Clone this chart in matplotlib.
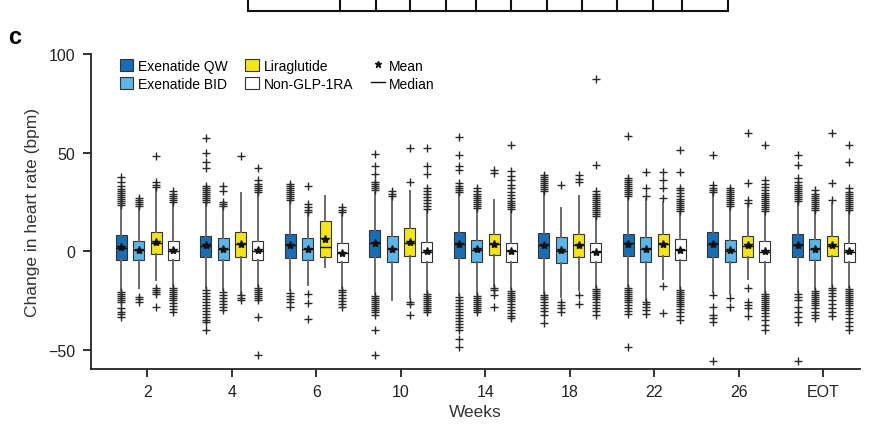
import matplotlib
matplotlib.use("Agg")
import matplotlib.pyplot as plt
from matplotlib.patches import Patch
from matplotlib.lines import Line2D
import numpy as np

plt.rcParams['font.family'] = ['Liberation Sans', 'DejaVu Sans']

weeks = ['2', '4', '6', '10', '14', '18', '22', '26', 'EOT']
groups = ['Exenatide QW', 'Exenatide BID', 'Liraglutide', 'Non-GLP-1RA']
colors = ['#1a6db3', '#5db6ea', '#f3e41c', '#ffffff']

# box statistics per group (one value per week)
q1 = {
    'Exenatide QW':  [-4.6, -3.2, -3.4, -2.9, -3.4, -3.7, -2.6, -3.2, -2.9],
    'Exenatide BID': [-4.6, -4.6, -4.6, -5.8, -5.4, -6.3, -5.4, -5.8, -4.6],
    'Liraglutide':   [-1.5, -3.0, -3.2, -2.4, -2.0, -3.2, -2.6, -2.9, -2.6],
    'Non-GLP-1RA':   [-4.6, -4.6, -5.8, -5.8, -5.8, -5.8, -4.6, -5.8, -5.4],
}
q3 = {
    'Exenatide QW':  [8.2, 7.8, 8.7, 10.7, 9.9, 9.0, 8.7, 9.9, 8.7],
    'Exenatide BID': [5.1, 6.5, 6.5, 7.8, 5.6, 7.0, 7.3, 5.6, 6.1],
    'Liraglutide':   [9.7, 9.7, 15.0, 11.9, 8.7, 8.7, 8.7, 7.8, 7.8],
    'Non-GLP-1RA':   [5.0, 5.0, 3.9, 4.8, 3.9, 4.3, 6.1, 5.1, 3.9],
}
median = {
    'Exenatide QW':  [1.4, 2.7, 2.9, 4.2, 3.4, 3.1, 3.9, 3.6, 3.1],
    'Exenatide BID': [0.5, 1.0, 1.0, 1.0, 0.5, 0.2, 1.0, 0.2, 1.0],
    'Liraglutide':   [4.0, 3.6, 1.9, 4.2, 3.4, 3.1, 3.4, 2.7, 2.7],
    'Non-GLP-1RA':   [0.2, 0.2, -0.8, -0.3, 0.0, -0.5, 0.5, -0.3, -0.3],
}
mean = {
    'Exenatide QW':  [1.8, 2.9, 3.0, 4.0, 3.5, 3.0, 3.5, 3.4, 3.0],
    'Exenatide BID': [0.6, 1.2, 1.2, 1.2, 0.8, 0.5, 1.0, 0.4, 1.2],
    'Liraglutide':   [4.5, 3.6, 6.0, 4.4, 3.4, 3.1, 3.4, 2.9, 2.9],
    'Non-GLP-1RA':   [0.3, 0.3, -1.0, -0.2, 0.1, -0.3, 0.5, -0.2, -0.2],
}
whis_hi = {
    'Exenatide QW':  [22.6, 24.0, 25.0, 29.5, 29.0, 29.5, 27.0, 29.0, 24.5],
    'Exenatide BID': [22.0, 22.0, 19.4, 27.0, 21.0, 21.8, 26.5, 22.0, 20.0],
    'Liraglutide':   [31.5, 29.4, 27.7, 30.3, 26.0, 28.0, 25.0, 23.5, 24.5],
    'Non-GLP-1RA':   [24.0, 29.0, 19.2, 20.5, 20.5, 17.0, 19.5, 19.5, 20.0],
}
whis_lo = {
    'Exenatide QW':  [-20.0, -19.0, -20.0, -22.0, -22.5, -21.5, -18.0, -21.0, -21.0],
    'Exenatide BID': [-19.0, -20.0, -17.3, -25.0, -22.0, -23.3, -25.0, -22.0, -19.5],
    'Liraglutide':   [-14.8, -21.6, -8.0, -23.7, -18.0, -20.0, -14.0, -14.0, -17.5],
    'Non-GLP-1RA':   [-18.0, -18.0, -19.0, -21.0, -19.5, -18.5, -19.0, -21.0, -18.5],
}
fliers = {
    'Exenatide QW': [
        [23.5, 24.5, 25.5, 26.5, 27.5, 28.5, 29.5, 30.5, 31.5, 33, 35, 37.5,
         -21, -22, -23, -24, -25, -26, -29, -31, -32, -33.5],
        [25, 26, 27, 28, 29, 30, 31, 32, 33, 42, 45, 50, 57.5,
         -20, -21.5, -23, -24.5, -26, -27.5, -29, -30.5, -32, -33.5, -35, -36, -40],
        [26, 27, 28, 29, 30, 31, 32, 33, 34, -21.5, -23, -24.5, -26, -28.5],
        [31, 32, 33, 34, 35, 39.3, 43, 49.5,
         -23, -24, -25, -26, -27, -28, -29, -30, -31, -32.5, -40.3, -52.6],
        [30, 31, 32, 33, 34.5, 41, 43, 49, 58,
         -23.5, -25, -26.5, -28, -29.5, -31, -32.5, -34, -35.5, -37, -38.5, -40, -44.6, -48.5],
        [30.5, 31.5, 32.5, 33.5, 34.5, 35.5, 36.5, 37.5, 38.8,
         -22.5, -23.5, -24.5, -26, -27.5, -29, -30.5, -32.5, -36.6],
        [28, 29, 30, 31, 32, 33, 34, 35, 36, 37, 58.3,
         -19, -20, -21, -22, -23, -24, -25, -26, -27.5, -29, -30.5, -31.8, -48.5],
        [30, 31, 32, 33.7, 49, -22.4, -28.4, -32.6, -34, -36, -55.6],
        [25.5, 26.5, 27.5, 28.5, 29.5, 30.5, 31.5, 32.5, 33.5, 35, 37, 43.9, 49,
         -22, -23.5, -25, -28.6, -31, -33.5, -36, -55.6],
    ],
    'Exenatide BID': [
        [23, 24, 25, 26, 27, -23.5, -24.5, -26],
        [23, 24, 25, 30.3, 32.8, -21, -22.5, -24, -25.5, -27, -28.5, -30],
        [20, 21, 22.6, 24, 33, -21.6, -26.4, -34.7],
        [28, 29, 30.5],
        [22, 23, 24, 25, 26, 27, 28, 29, 30.5, 32,
         -23, -24, -25, -26, -27, -28, -29, -30, -31],
        [33.7, -26, -27.5, -29, -31],
        [27.7, 32, 40, -26, -27, -28.5, -30, -32],
        [23, 24, 25, 26, 27, 28, 29, 30, 31, 32, -23.7, -28.2],
        [21, 22, 23, 24, 25, 26, 27, 28, 29, 31,
         -20.5, -21.5, -22.5, -23.5, -24.5, -25.5, -26.5, -27.5, -29, -31, -32.5, -34],
    ],
    'Liraglutide': [
        [32.5, 33.5, 35, 48, -19, -20, -21, -22, -28.6],
        [48, -22.5, -24, -25],
        [],
        [34.9, 52.4, -25.9, -26.7, -32.3],
        [39.5, 41, -19, -20, -22.5, -28.4],
        [34.9, 36.5, 38.8, -22.4, -26.7],
        [26.9, 32, 36.2, 40, -17.5, -31.5],
        [24.6, 26, 34.5, 60, -19, -25.9, -27.5, -29, -33],
        [26, 34.5, 60, -18.8, -20, -21.5, -23, -25, -27, -29, -31, -33],
    ],
    'Non-GLP-1RA': [
        [25, 26, 27, 28, 29, 30.6,
         -19, -20, -21, -22, -23, -24, -25, -26.5, -28, -29.5, -31],
        [30, 31, 32, 33, 34, 36, 42, -19, -20, -21, -22, -23, -24, -25, -33.5, -53],
        [20, 21, 22.6, -19.7, -21, -22.5, -24, -25.5, -27, -28.6],
        [21.5, 23, 24.5, 26, 27.5, 29, 30.5, 32, 39.3, 43.4, 52.4,
         -22, -23, -24, -25, -26, -27, -28, -29, -30, -31],
        [21.5, 22.5, 23.5, 24.5, 25.5, 27, 28.5, 30, 32, 33.7, 36, 38, 40.5, 54,
         -20.5, -21.5, -22.5, -23.5, -24.5, -25.5, -27, -28.5, -30, -31.5, -33, -34],
        [18, 19, 20, 21, 22, 23, 24, 25, 26, 27, 28, 29, 30.3, 43.9, 87.6,
         -19.5, -20.5, -21.5, -22.5, -23.5, -24.5, -26, -27.5, -29, -30.5, -32.6],
        [20.5, 21.5, 22.5, 23.5, 24.5, 25.5, 26.5, 28, 29.5, 31, 32, 40, 51.2,
         -20, -21, -22, -23, -24, -25, -26, -27, -28, -29.5, -31, -33, -35],
        [20.5, 21.5, 22.5, 23.5, 24.5, 25.5, 26.5, 27.5, 28.5, 29.5, 31, 32.5, 34, 36.2, 54,
         -22, -23, -24, -25, -26, -27, -28, -29, -30, -31.5, -33, -35, -37.5, -40.3],
        [21, 22, 23, 24, 25, 26, 27, 28, 29, 30, 32, 45, 54,
         -19.5, -20.5, -21.5, -22.5, -23.5, -24.5, -25.5, -26.5, -27.5, -29, -30.5, -32,
         -34, -36, -38, -40.3],
    ],
}

fig = plt.figure(figsize=(8.72, 4.27), dpi=100)
ax = fig.add_axes([0.104, 0.133, 0.882, 0.738])

offsets = [-0.307, -0.103, 0.103, 0.307]
base = np.arange(1, len(weeks) + 1)

for g, col, off in zip(groups, colors, offsets):
    stats = []
    for i in range(len(weeks)):
        stats.append(dict(med=median[g][i], q1=q1[g][i], q3=q3[g][i],
                          whislo=whis_lo[g][i], whishi=whis_hi[g][i],
                          mean=mean[g][i], fliers=fliers[g][i]))
    ax.bxp(stats, positions=base + off, widths=0.13, patch_artist=True,
           showmeans=True, showcaps=False, manage_ticks=False,
           boxprops=dict(facecolor=col, edgecolor='#333333', linewidth=0.8),
           whiskerprops=dict(color='#6a6a6a', linewidth=1.4),
           medianprops=dict(color='#111111', linewidth=1.0),
           meanprops=dict(marker='*', markerfacecolor='#111111',
                          markeredgecolor='#111111', markersize=6),
           flierprops=dict(marker='+', markeredgecolor='#2a2a2a',
                           markersize=5.5, markeredgewidth=1.0))

ax.set_xlim(0.33, 9.43)
ax.set_ylim(-60, 100)
ax.set_xticks(base)
ax.set_xticklabels(weeks)
ax.set_yticks([-50, 0, 50, 100])
ax.set_yticklabels(['\u221250', '0', '50', '100'])
for s in ['top', 'right']:
    ax.spines[s].set_visible(False)
for s in ['left', 'bottom']:
    ax.spines[s].set_linewidth(1.3)
    ax.spines[s].set_color('#222222')
ax.spines['left'].set_bounds(-60, 100)
ax.tick_params(axis='both', length=6, width=1.3, color='#222222',
               labelsize=11.5, labelcolor='#222222', pad=5)
ax.set_ylabel('Change in heart rate (bpm)', fontsize=12.5, color='#333333', labelpad=6)
ax.set_xlabel('Weeks', fontsize=12.5, color='#333333', labelpad=3)

handles = [Patch(facecolor=colors[0], edgecolor='#333333', lw=0.8),
           Patch(facecolor=colors[1], edgecolor='#333333', lw=0.8),
           Patch(facecolor=colors[2], edgecolor='#333333', lw=0.8),
           Patch(facecolor=colors[3], edgecolor='#333333', lw=0.8),
           Line2D([], [], marker='*', color='#111111', ls='none', markersize=5),
           Line2D([], [], color='#111111', lw=1.0)]
labels = groups + ['Mean', 'Median']
fig.legend(handles, labels, loc='upper left', bbox_to_anchor=(114 / 872, 1 - 54 / 427),
           ncol=3, frameon=False, fontsize=10, handlelength=1.0, handleheight=1.0,
           handletextpad=0.3, columnspacing=1.3, labelspacing=0.3, borderaxespad=0)

# panel label and the cut-off table from the panel above
fig.text(8 / 872, 1 - 38 / 427, 'c', fontsize=17, fontweight='bold', va='center')
tx = [248, 340, 376, 410, 446, 476, 511, 547, 582, 617, 653, 682, 728]
ty = 1 - 12 / 427
fig.add_artist(Line2D([tx[0] / 872, tx[-1] / 872], [ty, ty], color='#111111', lw=1.5))
for x in tx:
    fig.add_artist(Line2D([x / 872, x / 872], [ty, 1.0], color='#111111', lw=1.5))

fig.savefig('out.png', dpi=100)
